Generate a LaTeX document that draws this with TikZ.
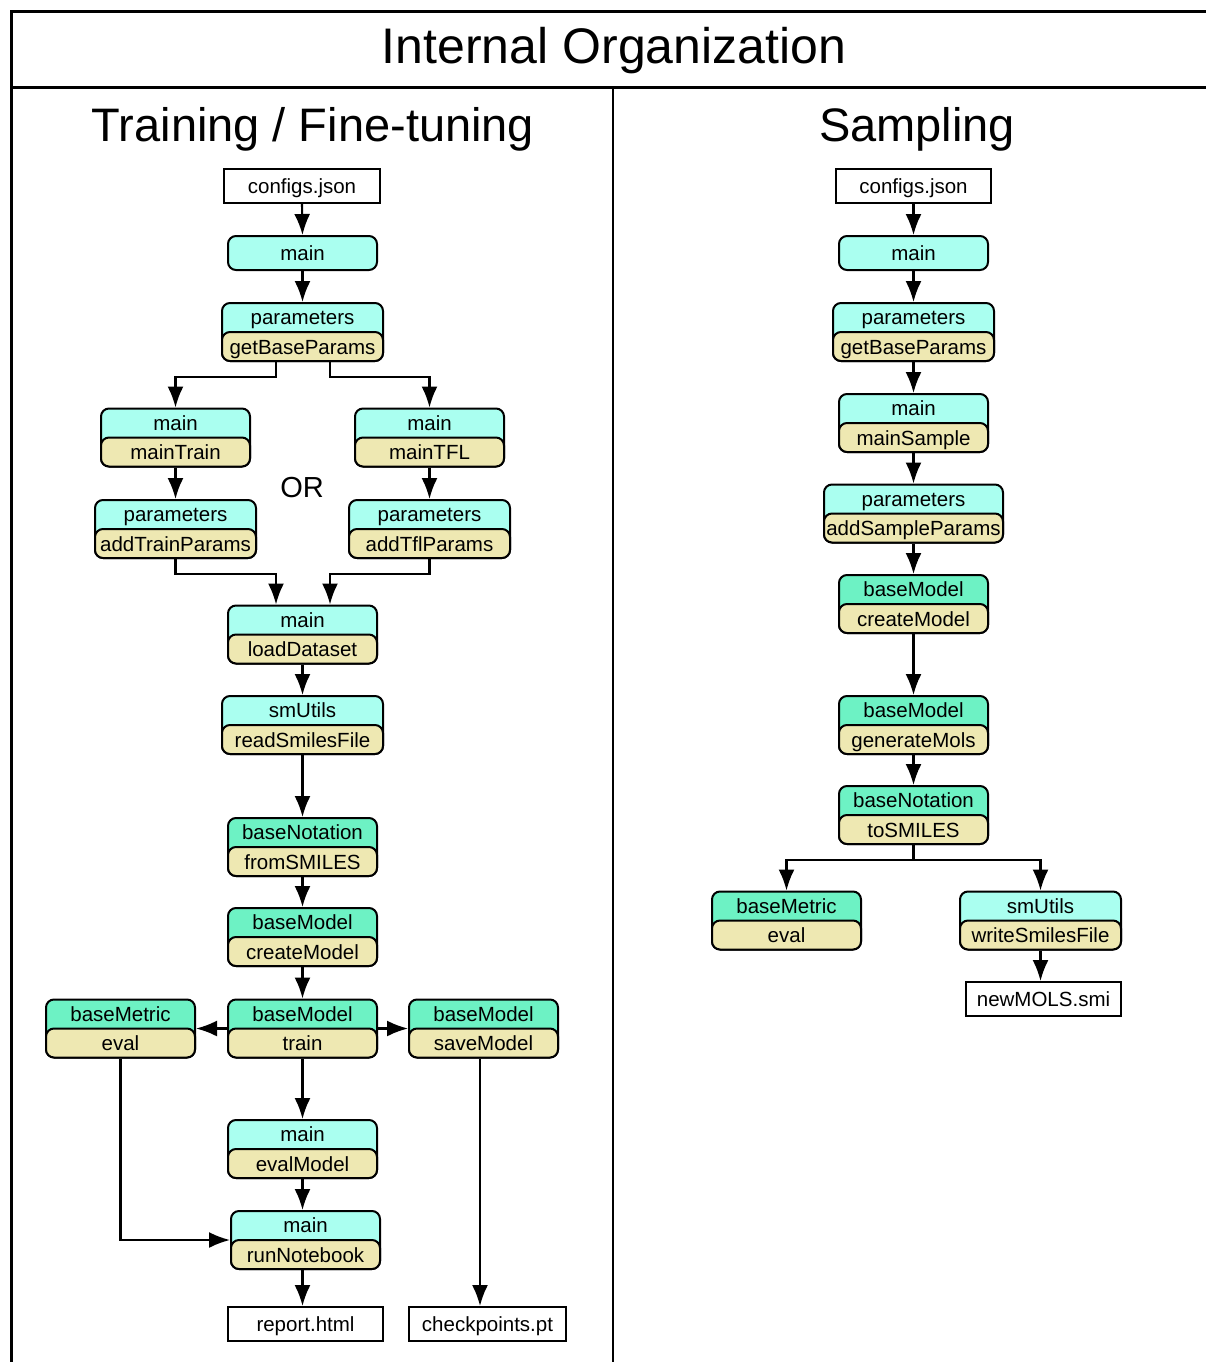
\documentclass[tikz,border=0pt]{standalone}
\usepackage{fontspec}
\setmainfont{Liberation Sans}
\usetikzlibrary{arrows.meta,calc}
\definecolor{cy}{HTML}{AAFFF0}
\definecolor{gr}{HTML}{6DF2C4}
\definecolor{bg}{HTML}{EEE8B2}
\tikzset{
 base/.style={font=\fontsize{20.5}{24}\selectfont, text height=17pt, text depth=2pt, inner sep=0pt},
 outer/.style={draw, line width=2pt, rounded corners=8pt, minimum height=58pt, inner sep=0pt},
 innerbox/.style={base, draw, line width=2pt, rounded corners=8pt, fill=bg, minimum height=29pt},
 filebox/.style={base, draw, line width=2pt, minimum height=34pt, fill=white},
 single/.style={base, draw, rounded corners=8pt, line width=2pt, minimum height=34pt, fill=cy},
 arr/.style={line width=2.1pt, -{Latex[length=21pt,width=16pt]}},
 frame/.style={line width=3pt},
 head/.style={font=\fontsize{47}{56}\selectfont, inner sep=0pt},
}
\newcommand{\tbox}[7]{%
 \node[outer, fill=#5, minimum width=#4pt] (#1) at (#2,#3) {};
 \node[innerbox, minimum width=#4pt, anchor=south] (#1b) at (#1.south) {#7};
 \node[base] (#1t) at ($(#1.north)!0.25!(#1.south)$) {#6};
}
\begin{document}
\begin{tikzpicture}[x=1pt,y=-1pt]
\useasboundingbox (0,0) rectangle (1205,1362);
% frame
\draw[frame] (11,1375) -- (11,12) -- (1215,12);
\draw[frame] (11,88) -- (1215,88);
\draw[line width=2.5pt] (613,88) -- (613,1375);
\node[head, font=\fontsize{50}{60}\selectfont] (title) at (614,51) {Internal Organization};
\node[head] (hl) at (313,129) {Training / Fine-tuning};
\node[head] (hr) at (917,129) {Sampling};
% left column
\node[filebox, minimum width=156pt] (cfL) at (302,186) {configs.json};
\node[single, minimum width=149pt] (mL) at (302.5,253) {main};
\tbox{pL}{302.5}{332}{161}{cy}{parameters}{getBaseParams}
\tbox{mT}{175.5}{437.5}{149}{cy}{main}{mainTrain}
\tbox{mF}{429.5}{437.5}{149}{cy}{main}{mainTFL}
\node[base, font=\fontsize{29}{34}\selectfont, text height=21pt] (or) at (302,488) {OR};
\tbox{aT}{175.5}{529}{161}{cy}{parameters}{addTrainParams}
\tbox{aF}{429.5}{529}{161}{cy}{parameters}{addTflParams}
\tbox{lD}{302.5}{634.5}{149}{cy}{main}{loadDataset}
\tbox{rS}{302.5}{725}{161}{cy}{smUtils}{readSmilesFile}
\tbox{fS}{302.5}{847}{149}{gr}{baseNotation}{fromSMILES}
\tbox{cM}{302.5}{937}{149}{gr}{baseModel}{createModel}
\tbox{ev}{120.5}{1028.5}{149}{gr}{baseMetric}{eval}
\tbox{tr}{302.5}{1028.5}{149}{gr}{baseModel}{train}
\tbox{sv}{483.5}{1028.5}{149}{gr}{baseModel}{saveModel}
\tbox{eM}{302.5}{1149}{149}{cy}{main}{evalModel}
\tbox{rn}{305.5}{1240}{149}{cy}{main}{runNotebook}
\node[filebox, minimum width=155pt] (rep) at (305.5,1324) {report.html};
\node[filebox, minimum width=157pt] (ck) at (487.5,1324) {checkpoints.pt};
% left edges
\draw[arr] (cfL.south) -- (mL.north);
\draw[arr] (mL.south) -- (pL.north);
\draw[arr] ([xshift=-26.5pt]pL.south) -- ++(0,15) -| (mT.north);
\draw[arr] ([xshift=27.5pt]pL.south) -- ++(0,15) -| (mF.north);
\draw[arr] (mT.south) -- (aT.north);
\draw[arr] (mF.south) -- (aF.north);
\draw[arr] (aT.south) -- ++(0,15) -| ([xshift=-26.5pt]lD.north);
\draw[arr] (aF.south) -- ++(0,15) -| ([xshift=27.5pt]lD.north);
\draw[arr] (lD.south) -- (rS.north);
\draw[arr] (rS.south) -- (fS.north);
\draw[arr] (fS.south) -- (cM.north);
\draw[arr] (cM.south) -- (tr.north);
\draw[arr] (tr.west) -- (ev.east);
\draw[arr] (tr.east) -- (sv.west);
\draw[arr] (tr.south) -- (eM.north);
\draw[arr] (eM.south) -- (eM.south |- rn.north);
\draw[arr] (ev.south) |- (rn.west);
\draw[arr] ([xshift=-3.5pt]sv.south) -- ([xshift=-3.5pt]sv.south |- ck.north);
\draw[arr] ([xshift=-3pt]rn.south) -- ([xshift=-3pt]rn.south |- rep.north);
% right column
\node[filebox, minimum width=155pt] (cfR) at (913.5,186) {configs.json};
\node[single, minimum width=149pt] (mR) at (913.5,253) {main};
\tbox{pR}{913.5}{332}{161}{cy}{parameters}{getBaseParams}
\tbox{mS}{913.5}{423}{149}{cy}{main}{mainSample}
\tbox{aS}{913.5}{513.5}{179}{cy}{parameters}{addSampleParams}
\tbox{cR}{913.5}{604}{149}{gr}{baseModel}{createModel}
\tbox{gM}{913.5}{725}{149}{gr}{baseModel}{generateMols}
\tbox{ts}{913.5}{815}{149}{gr}{baseNotation}{toSMILES}
\tbox{eR}{786.5}{920.5}{149}{gr}{baseMetric}{eval}
\tbox{ws}{1040.5}{920.5}{161}{cy}{smUtils}{writeSmilesFile}
\node[filebox, minimum width=155pt] (nm) at (1043.5,999) {newMOLS.smi};
% right edges
\draw[arr] (cfR.south) -- (mR.north);
\draw[arr] (mR.south) -- (pR.north);
\draw[arr] (pR.south) -- (mS.north);
\draw[arr] (mS.south) -- (aS.north);
\draw[arr] (aS.south) -- (cR.north);
\draw[arr] (cR.south) -- (gM.north);
\draw[arr] (gM.south) -- (ts.north);
\draw[arr] (ts.south) -- ++(0,15) -| (eR.north);
\draw[arr] (ts.south) -- ++(0,15) -| (ws.north);
\draw[arr] (ws.south) -- (ws.south |- nm.north);
\end{tikzpicture}
\end{document}
